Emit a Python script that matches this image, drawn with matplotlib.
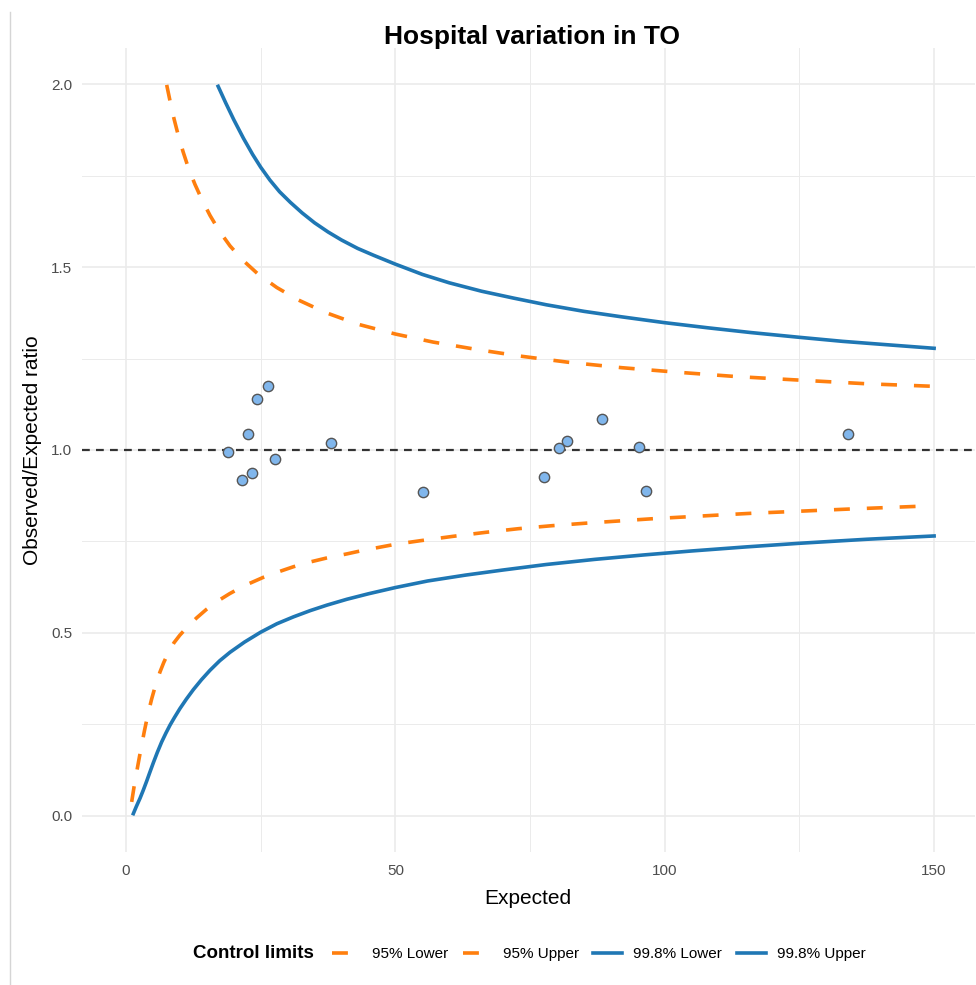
import matplotlib
matplotlib.use("Agg")
from matplotlib import pyplot as plt
from matplotlib.lines import Line2D

plt.rcParams["font.family"] = ["Liberation Sans", "DejaVu Sans"]

# hospitals: expected count and observed/expected ratio
expected = [19.0, 21.6, 23.3, 22.7, 24.4, 26.3, 27.6, 38.0, 55.1, 77.5,
            80.4, 81.8, 88.3, 95.2, 96.6, 134.1]
oe_ratio = [0.995, 0.918, 0.937, 1.044, 1.139, 1.175, 0.975, 1.019, 0.885, 0.926,
            1.005, 1.025, 1.085, 1.008, 0.888, 1.044]

# control limits
lo95_x = [1.05, 1.5, 1.98, 2.45, 2.9, 3.4, 3.84, 4.3, 4.77, 5.5, 6.3, 7.0, 7.85,
          8.9, 10.0, 11.5, 13.1, 14.9, 16.8, 19.2, 21.8, 25.5, 28.5, 31.1, 34.2,
          37.3, 41.0, 44.1, 49.9, 54.6, 60.7, 66.8, 72.9, 79.0, 85.4, 91.5, 97.6,
          103.7, 109.8, 116.1, 122.4, 128.6, 134.9, 141.8, 148.7]
lo95_y = [0.038, 0.080, 0.120, 0.158, 0.193, 0.231, 0.262, 0.292, 0.320, 0.358,
          0.393, 0.419, 0.446, 0.473, 0.494, 0.518, 0.541, 0.564, 0.585, 0.607,
          0.628, 0.652, 0.668, 0.681, 0.694, 0.705, 0.716, 0.726, 0.742, 0.752,
          0.764, 0.775, 0.785, 0.793, 0.800, 0.806, 0.812, 0.817, 0.822, 0.827,
          0.831, 0.835, 0.839, 0.843, 0.847]

up95_x = [7.55, 8.2, 8.9, 9.7, 10.6, 11.6, 12.8, 14.1, 15.6, 17.3, 19.3, 21.6,
          24.5, 28.0, 32.0, 37.0, 43.0, 50.0, 57.0, 65.0, 73.0, 82.0, 92.0, 102.0,
          113.0, 125.0, 137.5, 150.0]
up95_y = [1.998, 1.952, 1.906, 1.860, 1.815, 1.770, 1.726, 1.684, 1.641, 1.599,
          1.558, 1.520, 1.481, 1.444, 1.410, 1.376, 1.344, 1.317, 1.295, 1.275,
          1.257, 1.240, 1.225, 1.213, 1.201, 1.191, 1.181, 1.174]

lo998_x = [1.36, 1.9, 2.6, 3.2, 3.84, 4.4, 5.07, 5.8, 6.62, 7.4, 8.17, 9.0, 10.0,
           11.2, 12.5, 14.0, 15.6, 17.4, 19.3, 22.0, 25.0, 28.0, 31.1, 34.2, 37.3,
           41.0, 45.0, 50.0, 56.0, 63.0, 70.0, 78.0, 87.0, 96.0, 105.0, 115.0,
           125.0, 137.5, 150.0]
lo998_y = [0.006, 0.025, 0.048, 0.070, 0.095, 0.118, 0.145, 0.173, 0.202, 0.226,
           0.248, 0.269, 0.293, 0.319, 0.345, 0.372, 0.398, 0.424, 0.447, 0.475,
           0.502, 0.525, 0.544, 0.561, 0.576, 0.592, 0.607, 0.624, 0.642, 0.658,
           0.672, 0.687, 0.701, 0.713, 0.724, 0.735, 0.745, 0.756, 0.765]

up998_x = [17.1, 18.5, 20.0, 21.8, 23.5, 25.0, 26.7, 28.5, 30.5, 32.7, 35.0, 37.5,
           40.0, 43.0, 46.0, 50.0, 55.0, 60.0, 66.0, 72.0, 78.0, 85.0, 92.0, 100.0,
           108.0, 116.0, 125.0, 133.0, 141.0, 150.0]
up998_y = [1.994, 1.949, 1.903, 1.852, 1.808, 1.773, 1.738, 1.706, 1.677, 1.648,
           1.621, 1.596, 1.574, 1.551, 1.532, 1.508, 1.480, 1.457, 1.434, 1.415,
           1.397, 1.379, 1.364, 1.348, 1.334, 1.321, 1.308, 1.297, 1.288, 1.278]

limit_labels = ["95% Lower", "95% Upper", "99.8% Lower", "99.8% Upper"]

orange = "#FF7F0E"
blue = "#1F77B4"
lw = 2.6
dash = (0, (4.4, 4.7))

fig = plt.figure(figsize=(9.76, 9.85), dpi=100)
ax = fig.add_axes([82 / 976, 0.1346, 892.5 / 976, 0.8171])

ax.plot(lo95_x, lo95_y, color=orange, lw=lw, linestyle=dash)
ax.plot(up95_x, up95_y, color=orange, lw=lw, linestyle=dash)
ax.plot(lo998_x, lo998_y, color=blue, lw=lw)
ax.plot(up998_x, up998_y, color=blue, lw=lw)
ax.axhline(1.0, color="#333333", lw=1.6, linestyle=(0, (3.5, 2.8)), zorder=3)
ax.scatter(expected, oe_ratio, s=55, color="#80B6EC", edgecolor="#555555",
           linewidth=1.0, zorder=4)

ax.set_xlim(-8.17, 157.5)
ax.set_ylim(-0.1, 2.1)
ax.set_xticks([0, 50, 100, 150])
ax.set_xticks([25, 75, 125], minor=True)
ax.set_yticks([0.0, 0.5, 1.0, 1.5, 2.0])
ax.set_yticks([0.25, 0.75, 1.25, 1.75], minor=True)
ax.set_yticklabels(["0.0", "0.5", "1.0", "1.5", "2.0"])
ax.grid(True, which="major", color="#EBEBEB", lw=1.2)
ax.grid(True, which="minor", color="#EBEBEB", lw=0.7)
ax.set_axisbelow(True)
for s in ax.spines.values():
    s.set_visible(False)
ax.tick_params(which="both", length=0, labelsize=11, labelcolor="#4D4D4D")
ax.tick_params(axis="x", pad=8)
ax.tick_params(axis="y", pad=7)

ax.set_xlabel("Expected", fontsize=15, labelpad=8)
ax.set_ylabel("Observed/Expected ratio", fontsize=15, labelpad=6.3)

fig.text(0.545, 1 - 37 / 985, "Hospital variation in TO", fontsize=19,
         fontweight="bold", ha="center", va="center")

handles = [
    Line2D([], [], color=orange, lw=lw, linestyle=dash),
    Line2D([], [], color=orange, lw=lw, linestyle=dash),
    Line2D([], [], color=blue, lw=lw),
    Line2D([], [], color=blue, lw=lw),
]
fig.text(193 / 976, 1 - 954 / 985, "Control limits", fontsize=13.5,
         fontweight="bold", ha="left", va="center")
fig.legend(handles, limit_labels, loc="center left", ncol=4, frameon=False,
           bbox_to_anchor=(332 / 976, 1 - 954 / 985), fontsize=11,
           handlelength=1.9, handletextpad=0.7, columnspacing=0.97,
           borderaxespad=0, borderpad=0)

# thin border line at the left edge of the screenshot
fig.add_artist(Line2D([10 / 976, 10 / 976], [0, 1 - 12 / 985],
                      color="#D5D5D5", lw=1))

fig.savefig("out.png", dpi=100)
